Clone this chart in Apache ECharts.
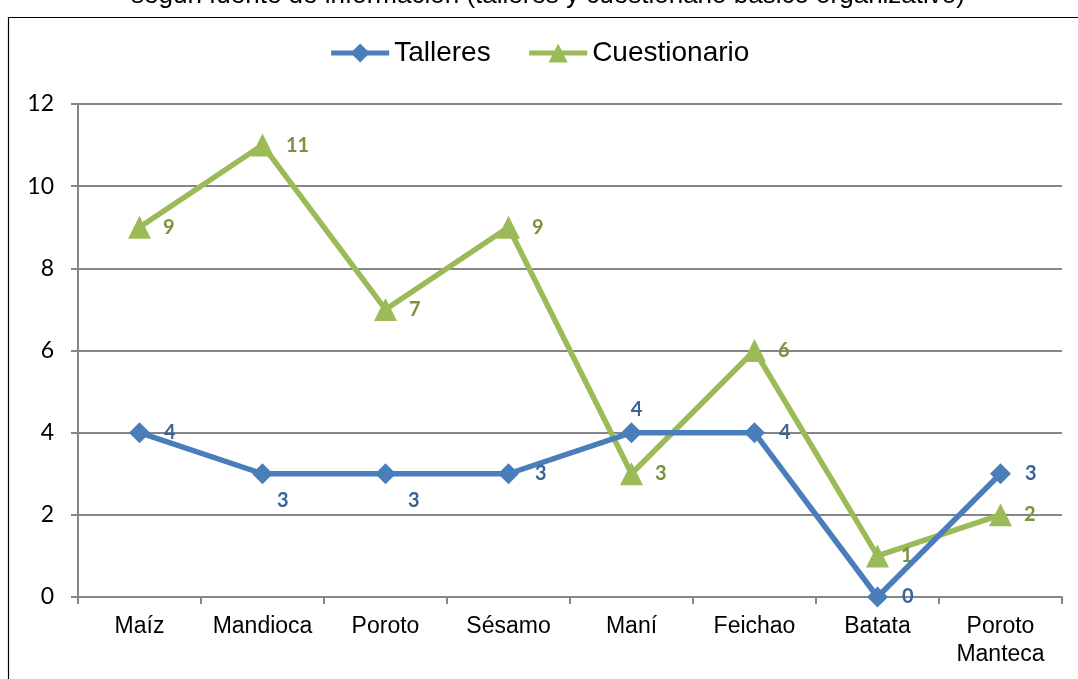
<!DOCTYPE html>
<html>
<head>
<meta charset="utf-8">
<style>
  html, body { margin: 0; padding: 0; background: #fff; }
  #chart { width: 1078px; height: 679px; }
</style>
<script src="https://cdn.jsdelivr.net/npm/echarts@6/dist/echarts.min.js"></script>
</head>
<body>
<div id="chart"></div>
<script>
// Cultivos y número de menciones según fuente de información
const categories = ['Maíz', 'Mandioca', 'Poroto', 'Sésamo', 'Maní', 'Feichao', 'Batata', 'Poroto\nManteca'];
const talleres = [4, 3, 3, 3, 4, 4, 0, 3];
const cuestionario = [9, 11, 7, 9, 3, 6, 1, 2];
const yTicks = { min: 0, max: 12, interval: 2 };

const titleText = 'según fuente de información (talleres y cuestionario básico organizativo)';

// per-point label tweaks for the Talleres series
const talleresLabelTweaks = [
  null,
  { offset: [-10, 27] },
  { offset: [-2, 27] },
  { offset: [2, 0] },
  { position: 'top', distance: 3, offset: [5, 0] },
  null,
  null,
  null
];

const chart = echarts.init(document.getElementById('chart'));

const labelFont = { fontFamily: 'Lato', fontWeight: 'bold', fontSize: 20 };

chart.setOption({
  animation: false,
  backgroundColor: '#fff',
  graphic: [
    {
      type: 'rect',
      shape: { x: 8.5, y: 17.5, width: 1200, height: 800 },
      style: { fill: null, stroke: '#000', lineWidth: 1.2 },
      silent: true
    },
    {
      type: 'text',
      x: 548, y: -4,
      style: {
        text: titleText,
        fontFamily: 'Liberation Sans',
        fontSize: 26,
        fill: '#000',
        align: 'center',
        verticalAlign: 'middle'
      },
      silent: true
    }
  ],
  legend: {
    top: 34,
    left: 'center',
    itemWidth: 58,
    itemHeight: 24,
    itemGap: 36,
    lineStyle: { width: 5 },
    textStyle: { fontFamily: 'Liberation Sans', fontSize: 28, color: '#000' },
    data: ['Talleres', 'Cuestionario']
  },
  grid: { left: 78, right: 16, top: 104, bottom: 82 },
  xAxis: {
    type: 'category',
    data: categories,
    boundaryGap: true,
    axisLine: { lineStyle: { color: '#868686', width: 2 } },
    axisTick: { show: true, length: 7, inside: false, lineStyle: { color: '#868686', width: 2 } },
    axisLabel: {
      fontFamily: 'Liberation Sans',
      fontSize: 23,
      color: '#000',
      margin: 16,
      lineHeight: 28,
      interval: 0
    }
  },
  yAxis: {
    type: 'value',
    min: yTicks.min,
    max: yTicks.max,
    interval: yTicks.interval,
    axisLine: { show: true, lineStyle: { color: '#868686', width: 2 } },
    axisTick: { show: true, length: 7, lineStyle: { color: '#868686', width: 2 } },
    splitLine: { show: true, lineStyle: { color: '#868686', width: 2 } },
    axisLabel: {
      fontFamily: 'Lato',
      fontSize: 23,
      color: '#000',
      margin: 24
    }
  },
  series: [
    {
      name: 'Talleres',
      type: 'line',
      data: talleres.map((v, i) => {
        const t = talleresLabelTweaks[i];
        return t ? { value: v, label: Object.assign({}, t) } : v;
      }),
      symbol: 'diamond',
      symbolSize: 21,
      z: 3,
      itemStyle: { color: '#4A7EBB' },
      lineStyle: { color: '#4A7EBB', width: 5.5 },
      label: Object.assign({
        show: true,
        position: 'right',
        distance: 14,
        color: '#3A6496'
      }, labelFont)
    },
    {
      name: 'Cuestionario',
      type: 'line',
      data: cuestionario,
      symbol: 'triangle',
      symbolSize: 23,
      z: 2,
      itemStyle: { color: '#9BBB59' },
      lineStyle: { color: '#9BBB59', width: 5.5 },
      label: Object.assign({
        show: true,
        position: 'right',
        distance: 12,
        color: '#77933C'
      }, labelFont)
    }
  ]
});
</script>
</body>
</html>
